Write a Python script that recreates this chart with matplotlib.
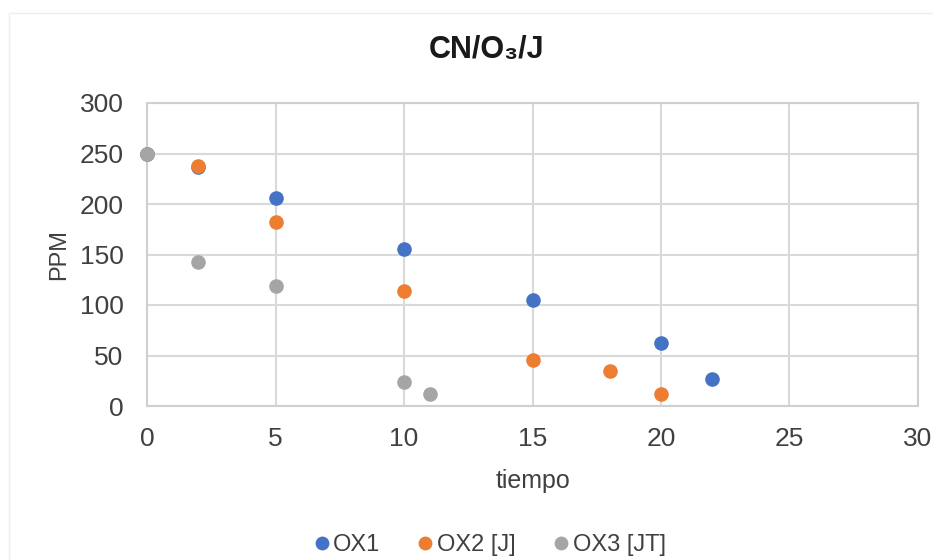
import matplotlib
matplotlib.use("Agg")
import matplotlib.pyplot as plt
from matplotlib.patches import Rectangle

plt.rcParams['font.family'] = ['Liberation Sans', 'DejaVu Sans']

title = "CN/O₃/J"
x_label = "tiempo"
y_label = "PPM"

ox1_t = [0, 2, 5, 10, 15, 20, 22]
ox1_ppm = [250, 237, 206, 155, 105, 62, 27]
ox2_t = [0, 2, 5, 10, 15, 18, 20]
ox2_ppm = [250, 238, 182, 114, 46, 35, 12]
ox3_t = [0, 2, 5, 10, 11]
ox3_ppm = [250, 143, 119, 24, 12]

series_names = ["OX1", "OX2 [J]", "OX3 [JT]"]
colors = ["#4472C4", "#ED7D31", "#A5A5A5"]

x_ticks = [0, 5, 10, 15, 20, 25, 30]
y_ticks = [0, 50, 100, 150, 200, 250, 300]

fig = plt.figure(figsize=(9.33, 5.6), dpi=100)
fig.patches.append(Rectangle((9/933, -0.1), 1.2, 1 - 13/560 + 0.1, transform=fig.transFigure,
                             fill=False, edgecolor="#eeeeee", linewidth=1.0))
ax = fig.add_axes([147/933, 1 - 406/560, (918 - 147)/933, (406 - 103)/560])

txt = "#404040"
for (xs, ys), name, c in zip([(ox1_t, ox1_ppm), (ox2_t, ox2_ppm), (ox3_t, ox3_ppm)], series_names, colors):
    ax.plot(xs, ys, linestyle="none", marker="o", markersize=10.5, color=c,
            markeredgewidth=0, label=name, zorder=3, clip_on=False)

ax.set_xlim(0, 30)
ax.set_ylim(0, 300)
ax.set_xticks(x_ticks)
ax.set_yticks(y_ticks)
ax.grid(True, color="#d9d9d9", linewidth=1.5)
ax.set_axisbelow(True)
for s in ax.spines.values():
    s.set_color("#d0d0d0")
    s.set_linewidth(1.5)
ax.tick_params(length=0, labelsize=19, colors=txt)
ax.tick_params(axis='x', pad=15)
ax.tick_params(axis='y', pad=17)

ax.set_xlabel(x_label, fontsize=18, color=txt, labelpad=13)
ax.set_ylabel(y_label, fontsize=17, color=txt, labelpad=7)

fig.text(487/933, 1 - 50/560, title, ha="center", va="center", fontsize=22,
         fontweight="bold", color="#1a1a1a")

leg = fig.legend(loc="center", bbox_to_anchor=(490/933, 1 - 545/560), ncol=3, frameon=False,
                 fontsize=17, handlelength=0.6, handletextpad=0.2, columnspacing=1.6,
                 markerscale=0.95)
for t in leg.get_texts():
    t.set_color(txt)

fig.savefig("out.png", dpi=100)
